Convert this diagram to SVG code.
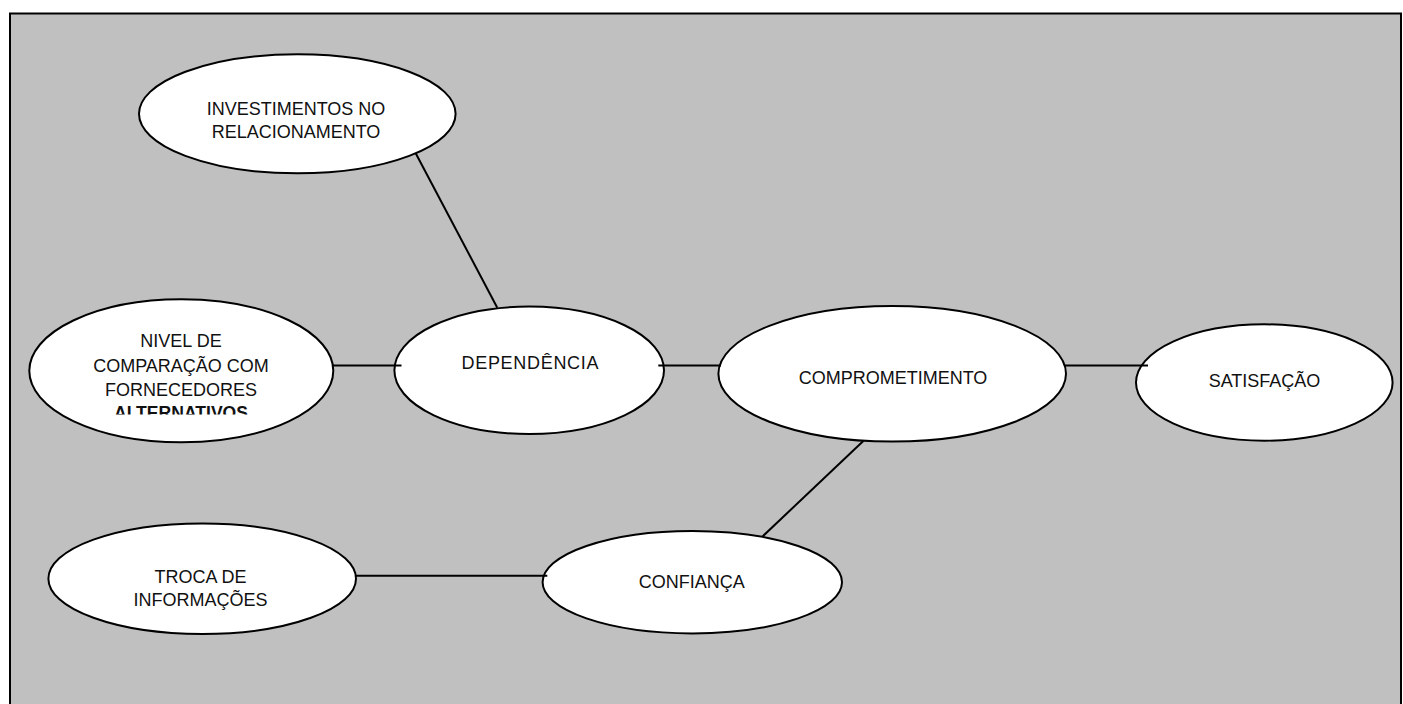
<svg xmlns="http://www.w3.org/2000/svg" width="1403" height="704" viewBox="0 0 1403 704">
  <style>
    .node { fill: #ffffff; stroke: #000000; stroke-width: 2; }
    .link { stroke: #000000; stroke-width: 2; fill: none; }
    .label { font-family: "Liberation Sans", Arial, sans-serif; font-size: 18px; fill: #111111; text-anchor: middle; }
    .bold { font-weight: bold; }
  </style>
  <defs>
    <clipPath id="nivel-clip">
      <rect x="29" y="300" width="305" height="114.5"/>
    </clipPath>
  </defs>

  <!-- page background and frame -->
  <rect x="0" y="0" width="1403" height="704" fill="#ffffff"/>
  <rect x="10" y="13.5" width="1391" height="700" fill="#c0c0c0" stroke="#000000" stroke-width="2"/>

  <g id="node-investimentos">
    <ellipse class="node" cx="297.3" cy="113.8" rx="158.3" ry="59.5"/>
    <text class="label" x="296" y="115">INVESTIMENTOS NO</text>
    <text class="label" x="296" y="137.5">RELACIONAMENTO</text>
  </g>

  <g id="node-nivel">
    <ellipse class="node" cx="181.3" cy="370.8" rx="152" ry="71.5"/>
    <g clip-path="url(#nivel-clip)">
      <text class="label" x="181" y="347">NIVEL DE</text>
      <text class="label" x="181" y="372">COMPARAÇÃO COM</text>
      <text class="label" x="181" y="395.5">FORNECEDORES</text>
      <text class="label bold" x="181" y="419" textLength="134" lengthAdjust="spacingAndGlyphs">ALTERNATIVOS</text>
    </g>
  </g>

  <g id="node-dependencia">
    <ellipse class="node" cx="529.2" cy="370.3" rx="134.8" ry="63.7"/>
    <text class="label" x="530" y="368.5" textLength="137">DEPENDÊNCIA</text>
  </g>

  <g id="node-comprometimento">
    <ellipse class="node" cx="892.2" cy="373.8" rx="173.8" ry="67.8"/>
    <text class="label" x="893" y="384">COMPROMETIMENTO</text>
  </g>

  <g id="node-satisfacao">
    <ellipse class="node" cx="1264.3" cy="382.5" rx="128.3" ry="58.2"/>
    <text class="label" x="1264.5" y="386.7">SATISFAÇÃO</text>
  </g>

  <g id="node-troca">
    <ellipse class="node" cx="202.2" cy="578.7" rx="153.8" ry="55.3"/>
    <text class="label" x="200.5" y="583">TROCA DE</text>
    <text class="label" x="200.5" y="606">INFORMAÇÕES</text>
  </g>

  <g id="node-confianca">
    <ellipse class="node" cx="692.3" cy="582.2" rx="149.7" ry="51.2"/>
    <text class="label" x="691.7" y="587.7">CONFIANÇA</text>
  </g>

  <!-- connectors, drawn over the node outlines -->
  <g id="connectors">
    <line class="link" x1="415.7" y1="153.3" x2="497.3" y2="307.7"/>
    <line class="link" x1="333" y1="365.5" x2="401.5" y2="365.5"/>
    <line class="link" x1="658.3" y1="365.5" x2="721" y2="365.5"/>
    <line class="link" x1="1065" y1="365.5" x2="1148" y2="365.5"/>
    <line class="link" x1="863.3" y1="441" x2="762.3" y2="536.7"/>
    <line class="link" x1="355" y1="575.7" x2="547.3" y2="575.7"/>
  </g>
</svg>
